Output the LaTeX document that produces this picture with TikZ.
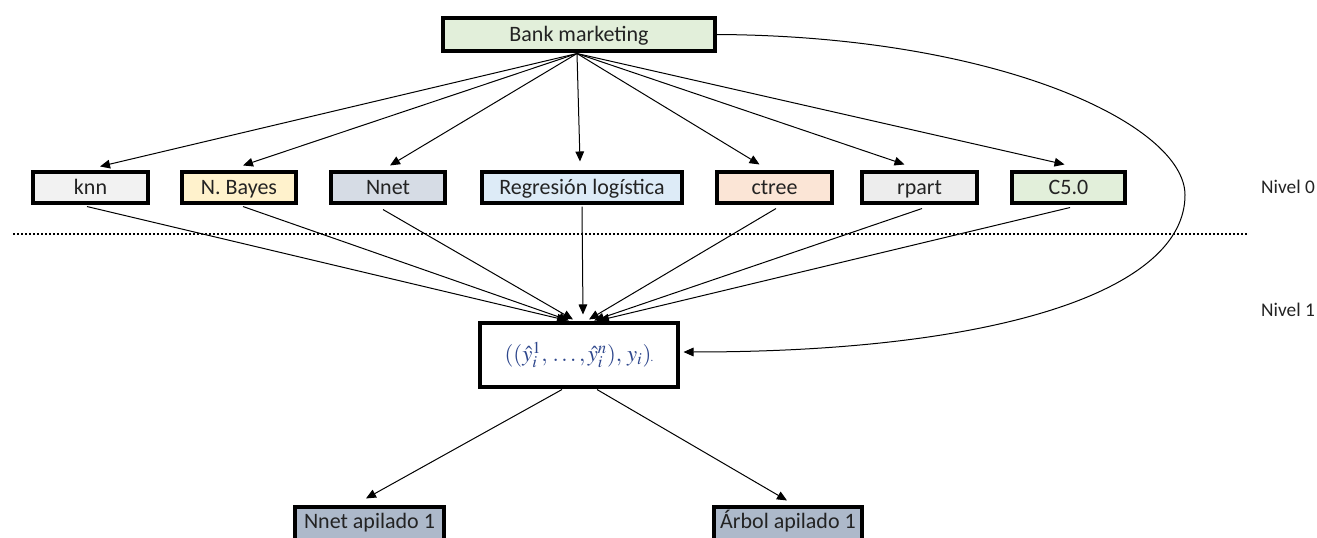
\documentclass[tikz,border=0pt]{standalone}
\usepackage{mathptmx}
\usepackage{fontspec}
\setmainfont{Carlito}
\usetikzlibrary{calc,arrows.meta}

\definecolor{txt}{RGB}{35,35,35}
\definecolor{fGreen}{HTML}{E2EFDA}
\definecolor{fGray}{HTML}{F2F2F2}
\definecolor{fYellow}{HTML}{FFF2CC}
\definecolor{fSlate}{HTML}{D6DCE5}
\definecolor{fBlue}{HTML}{DDEBF7}
\definecolor{fPeach}{HTML}{FBE5D6}
\definecolor{fGray2}{HTML}{EDEDED}
\definecolor{fDark}{HTML}{ADB9CA}
\definecolor{mathblue}{RGB}{45,70,140}

\tikzset{
  box/.style={draw=black, line width=2.3pt, text=txt, inner sep=0pt,
    font=\fontsize{16.5}{20}\selectfont, text height=13pt, text depth=3pt},
  lvl0/.style={box, minimum height=23.25pt},
  stacked/.style={box, minimum height=30pt, text height=12pt, text depth=10.5pt},
  arr/.style={-{Triangle[length=7.5pt,width=6.5pt]}, line width=0.75pt, black},
  levellabel/.style={text=txt, font=\fontsize{14.5}{17}\selectfont, inner sep=0pt},
}

\begin{document}
\begin{tikzpicture}[x=0.75pt, y=-0.75pt]
\clip (0,0) rectangle (1317,538);
\fill[white] (0,0) rectangle (1317,538);

% data source
\node[box, fill=fGreen, minimum width=204pt, minimum height=24.75pt] (bank) at (579,34.5) {Bank marketing};

% level 0 learners
\node[lvl0, fill=fGray,   minimum width=86.25pt] (knn)   at (90.5,187.5)  {knn};
\node[lvl0, fill=fYellow, minimum width=85.5pt]  (bayes) at (239,187.5)   {N. Bayes};
\node[lvl0, fill=fSlate,  minimum width=85.5pt]  (nnet)  at (388,187.5)   {Nnet};
\node[lvl0, fill=fBlue,   minimum width=150pt]   (reg)   at (582,187.5)   {Regresión logística};
\node[lvl0, fill=fPeach,  minimum width=86.25pt] (ctree) at (774.5,187.5) {ctree};
\node[lvl0, fill=fGray2,  minimum width=86.25pt] (rpart) at (919.5,187.5) {rpart};
\node[lvl0, fill=fGreen,  minimum width=84.75pt] (c50)   at (1068.5,187.5){C5.0};

% level 1 data set
\node[draw=black, line width=2.3pt, fill=white, inner sep=0pt,
  minimum width=148.5pt, minimum height=48pt, text=mathblue,
  font=\fontsize{17}{20}\selectfont] (meta) at (579,355)
  {$((\hat{y}_i^1,\,.\,.\,.\,,\hat{y}_i^n),\,y_i)$\kern-0.5pt\raisebox{0pt}{\fontsize{8}{8}\selectfont.}};

% stacked models
\node[stacked, fill=fDark, minimum width=111.75pt] (nap) at (369.5,527) {Nnet apilado 1};
\node[stacked, fill=fDark, minimum width=111pt]    (arb) at (788,527)   {Árbol apilado 1};

% level labels
\node[levellabel] (n0) at (1288,187) {Nivel 0};
\node[levellabel] (n1) at (1288,310) {Nivel 1};

% separator between levels
\draw[line width=0.9pt, dash pattern=on 1.5pt off 1.5pt] (13,234) -- (1248,234);

% data set to each learner
\coordinate (src) at ($(bank.south)+(-2,1)$);
\draw[arr] (src) -- ($(knn.north)+(9.5,-4)$);
\draw[arr] (src) -- ($(bayes.north)+(4,-5)$);
\draw[arr] (src) -- ($(nnet.north)+(2,-5)$);
\draw[arr] (src) -- ($(reg.north)+(-2,-9)$);
\draw[arr] (src) -- ($(ctree.north)+(-15,-6)$);
\draw[arr] (src) -- ($(rpart.north)+(-15,-6)$);
\draw[arr] (src) -- ($(c50.north)+(-4,-6)$);

% learner predictions into the level 1 set
\draw[arr] ($(knn.south)+(-3.5,2)$)  -- ($(meta.north)+(-12,-1)$);
\draw[arr] ($(bayes.south)+(4,2)$)   -- ($(meta.north)+(-10,-1)$);
\draw[arr] ($(nnet.south)+(-5,5)$)   -- ($(meta.north)+(-6,-2)$);
\draw[arr] ($(reg.south)+(0,2)$)     -- ($(meta.north)+(4,-7)$);
\draw[arr] ($(ctree.south)+(1.5,4)$) -- ($(meta.north)+(10,-2)$);
\draw[arr] ($(rpart.south)+(2.5,4)$) -- ($(meta.north)+(15,-1)$);
\draw[arr] ($(c50.south)+(1.5,3)$)   -- ($(meta.north)+(20,-1)$);

% true labels carried over from the original data
\draw[arr] (bank.east) .. controls (1000,36) and (1185,125) .. (1185,195)
  .. controls (1185,290) and (1000,352) .. ($(meta.east)+(4,-3)$);

% level 1 set to the stacked models
\draw[arr] ($(meta.south)+(-17,1)$) -- ($(nap.north)+(-3.5,-7)$);
\draw[arr] ($(meta.south)+(18,1)$)  -- ($(arb.north)+(-1,-5)$);
\end{tikzpicture}
\end{document}
